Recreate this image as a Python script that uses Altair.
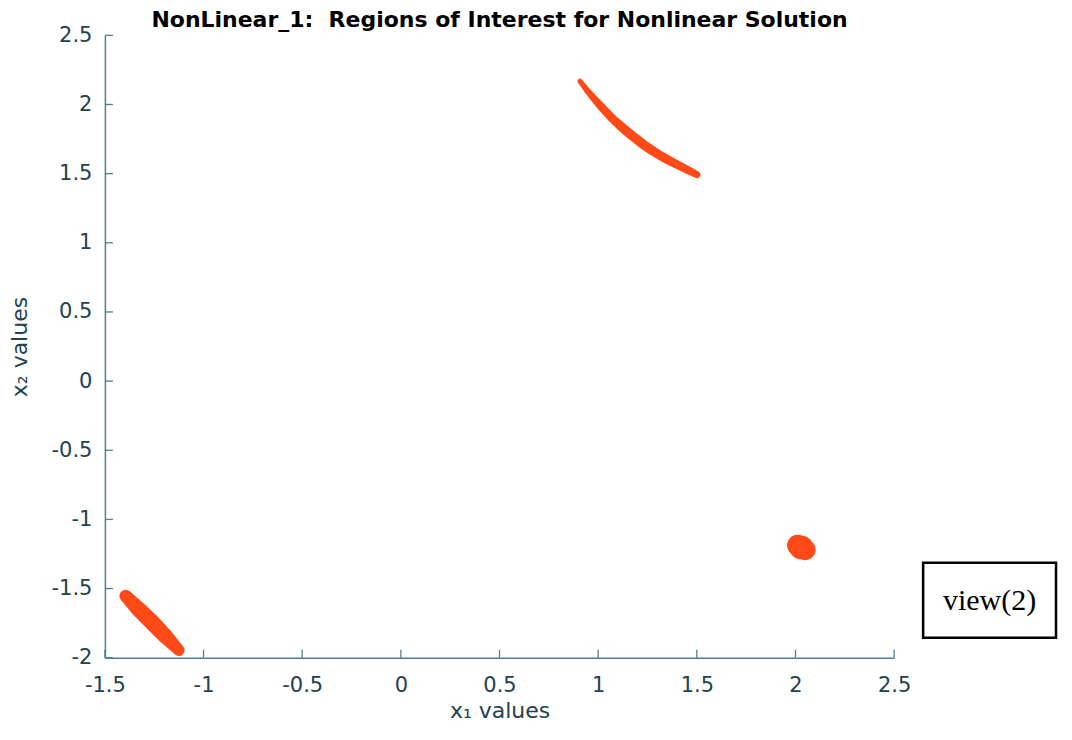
import altair as alt
import pandas as pd

# ---- data ----
title_text = "NonLinear_1:\u00a0 Regions of Interest for Nonlinear Solution"
x_title = "x\u2081 values"
y_title = "x\u2082 values"
note_text = ["view(2)"]

x_ticks = [-1.5, -1.0, -0.5, 0.0, 0.5, 1.0, 1.5, 2.0, 2.5]
y_ticks = [-2.0, -1.5, -1.0, -0.5, 0.0, 0.5, 1.0, 1.5, 2.0, 2.5]

# region A: curved band upper middle
ra_x = [0.908, 0.940, 0.976, 1.018, 1.060, 1.102, 1.145, 1.187, 1.229, 1.272, 1.314, 1.357, 1.399, 1.450, 1.500]
ra_y = [2.168, 2.108, 2.047, 1.980, 1.915, 1.859, 1.806, 1.757, 1.710, 1.669, 1.631, 1.597, 1.566, 1.529, 1.493]
ra_w = [5, 6, 7, 8, 8.5, 9, 9.5, 9.5, 9.5, 9.5, 9, 9, 8.5, 8, 7]

# region B: elongated blob lower left
rb_x = [-1.395, -1.329, -1.260, -1.192, -1.125]
rb_y = [-1.553, -1.650, -1.746, -1.847, -1.946]
rb_w = [12.5, 15.5, 16, 15, 11.5]

# region C: small ellipse lower right
rc_x = [2.010, 2.029, 2.049]
rc_y = [-1.187, -1.203, -1.219]
rc_w = [21, 24, 21]

# ---- build table ----
rows = []
for name, xs, ys, ws in [("A", ra_x, ra_y, ra_w), ("B", rb_x, rb_y, rb_w), ("C", rc_x, rc_y, rc_w)]:
    for i, (a, b, w) in enumerate(zip(xs, ys, ws)):
        rows.append({"region": name, "i": i, "x": a, "y": b, "w": w})
regions = pd.DataFrame(rows)

W, H = 790, 623
FONT = "DejaVu Sans"
AXIS_COL = "#4f7f94"
TEXT_COL = "#21424f"
RED = "#ff4a17"

xscale = alt.Scale(domain=[-1.5, 2.5], nice=False, zero=False)
yscale = alt.Scale(domain=[-2.0, 2.5], nice=False, zero=False)

x_axis = alt.Axis(
    values=x_ticks, labelExpr="toString(datum.value)", ticks=False, grid=False,
    domainColor=AXIS_COL, domainWidth=1.5, labelColor=TEXT_COL, labelFont=FONT,
    labelFontSize=21, labelPadding=17, labelFlush=False, title=x_title,
    titleFont=FONT, titleFontSize=22, titleFontWeight="normal", titleColor=TEXT_COL,
    titleY=60, titleBaseline="alphabetic",
)
y_axis = alt.Axis(
    values=y_ticks, labelExpr="toString(datum.value)", ticks=False, grid=False,
    domainColor=AXIS_COL, domainWidth=1.5, labelColor=TEXT_COL, labelFont=FONT,
    labelFontSize=21, labelPadding=13, labelFlush=False, title=y_title,
    titleFont=FONT, titleFontSize=22, titleFontWeight="normal", titleColor=TEXT_COL,
    titleX=-78, titleBaseline="alphabetic", titleAngle=270,
)

shapes = alt.Chart(regions).mark_trail(color=RED, opacity=1).encode(
    x=alt.X("x:Q", scale=xscale, axis=x_axis, title=x_title),
    y=alt.Y("y:Q", scale=yscale, axis=y_axis, title=y_title),
    size=alt.Size("w:Q", scale=None),
    detail="region:N",
    order=alt.Order("i:Q"),
)

xt = alt.Chart(pd.DataFrame({"xv": x_ticks})).mark_rule(color=AXIS_COL, strokeWidth=1.3).encode(
    x=alt.X("xv:Q", scale=xscale, title=x_title),
    y=alt.value(H), y2=alt.value(H - 8),
)
yt = alt.Chart(pd.DataFrame({"yv": y_ticks})).mark_rule(color=AXIS_COL, strokeWidth=1.3).encode(
    y=alt.Y("yv:Q", scale=yscale, title=y_title),
    x=alt.value(0), x2=alt.value(8),
)

note_df = pd.DataFrame({"label": note_text})
box = alt.Chart(note_df).mark_rect(fill="white", stroke="black", strokeWidth=2.5).encode(
    x=alt.value(819), x2=alt.value(952), y=alt.value(528), y2=alt.value(603),
)
note = alt.Chart(note_df).mark_text(
    font="Liberation Serif", fontSize=30, color="black", align="center", baseline="middle"
).encode(x=alt.value(885.5), y=alt.value(566), text="label:N")

chart = alt.layer(shapes, xt, yt, box, note).properties(
    width=W, height=H,
    background="white",
    title=alt.TitleParams(
        title_text, font=FONT, fontSize=22, fontWeight="bold", color="black",
        anchor="middle", baseline="alphabetic", offset=2, dy=27,
    ),
    autosize=alt.AutoSizeParams(type="none"),
    padding={"left": 97, "top": 27, "right": 170, "bottom": 70},
).configure_view(strokeWidth=0, stroke="transparent")

chart.save("out.html", embed_options={"renderer": "svg", "actions": False})
